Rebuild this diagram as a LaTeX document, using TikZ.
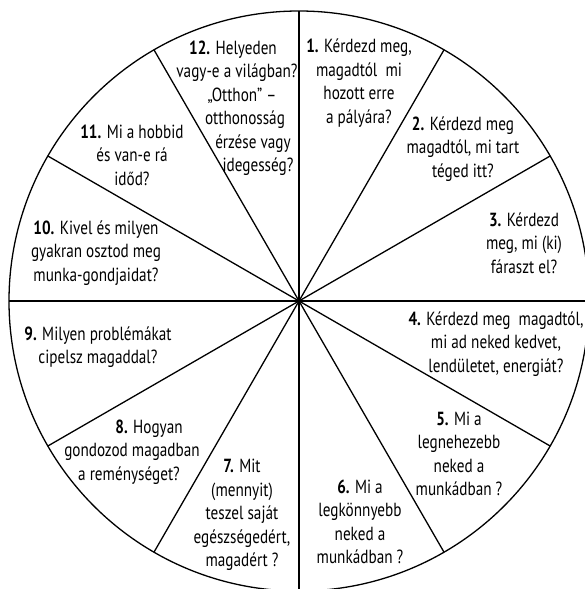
\documentclass[tikz,border=0pt]{standalone}
\usepackage{fontspec}
\setmainfont{PT Sans}[FakeStretch=0.8]
% bold question number
\newcommand\qnum[1]{\textbf{#1.}}
% a line of a centred block, moved sideways by #1
\newcommand\moveln[2]{\makebox[0pt][c]{\hspace*{#1}\hspace*{#1}#2}}
\begin{document}
\begin{tikzpicture}[x=1pt,y=-1pt,
  wheel/.style={line width=1.3pt},
  question/.style={align=center,inner sep=0pt,
    font=\fontsize{19}{23.5}\selectfont}]
\useasboundingbox (0,0) rectangle (585,589);
\coordinate (c) at (299,301);
\begin{scope}
  \clip (0,0) rectangle (585,589);
  \draw[wheel] (c) circle[radius=290];
  \foreach \a in {0,30,...,330} \draw[wheel] (c) -- ++(\a:290);
\end{scope}

\node[question] (q1) at (359,83)
  {\qnum{1} Kérdezd meg,\\magadtól\ \ mi\\hozott erre\\a pályára?};
\node[question] (q2) at (463,149)
  {\qnum{2} Kérdezd meg\\magadtól, mi tart\\téged itt?};
\node[question] (q3) at (524,243)
  {\qnum{3} Kérdezd\\meg, mi (ki)\\fáraszt el?};
\node[question] (q4) at (496,344)
  {\qnum{4} Kérdezd meg\ \ magadtól,\\mi ad neked kedvet,\\lendületet, energiát?};
\node[question] (q5) at (459,454)
  {\qnum{5} Mi a\\legnehezebb\\neked a\\munkádban ?};
\node[question] (q6) at (360,522)
  {\qnum{6} Mi a\\legkönnyebb\\neked a\\munkádban ?};
\node[question] (q7) at (242,515)
  {\qnum{7} Mit\\(mennyit)\\teszel saját\\egészségedért,\\magadért ?};
\node[question] (q8) at (132,452)
  {\moveln{17pt}{\qnum{8} Hogyan}\\\moveln{0pt}{gondozod magadban}\\\moveln{-3pt}{a reménységet?}};
\node[question] (q9) at (98,347)
  {\qnum{9} Milyen problémákat\\cipelsz magaddal?};
\node[question] (q10) at (96,253)
  {\qnum{10} Kivel és milyen\\gyakran osztod meg\\munka-gondjaidat?};
\node[question] (q11) at (132,155)
  {\qnum{11} Mi a hobbid\\és van-e rá\\időd?};
\node[question] (q12) at (245,108)
  {\moveln{-12pt}{\qnum{12} Helyeden}\\
   \moveln{-8pt}{vagy-e a világban?}\\
   \moveln{-3pt}{„Otthon” –}\\
   \moveln{0pt}{otthonosság}\\
   \moveln{8pt}{érzése vagy}\\
   \moveln{13pt}{idegesség?}};
\end{tikzpicture}
\end{document}
